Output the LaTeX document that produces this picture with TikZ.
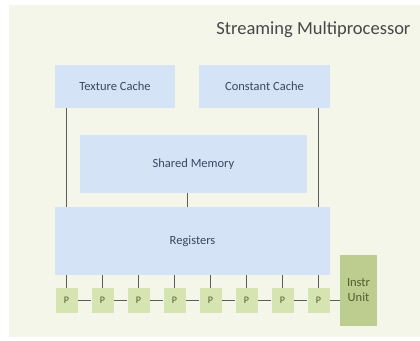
\documentclass[tikz,border=0pt]{standalone}
\usepackage{fontspec}
\setmainfont{Carlito}
\usepackage{tikz}
\usetikzlibrary{positioning,calc}

\definecolor{panelbg}{HTML}{F5F6EA}
\definecolor{memblue}{HTML}{D5E3F6}
\definecolor{memtext}{HTML}{3A4760}
\definecolor{pgreen}{HTML}{D6E4B2}
\definecolor{ugreen}{HTML}{BDCC8F}
\definecolor{utext}{HTML}{4F5E2C}
\definecolor{wire}{HTML}{5C5C5C}

\tikzset{
    membox/.style={fill=memblue,text=memtext,inner sep=0pt,font=\fontsize{12.5}{14}\selectfont},
    procbox/.style={fill=pgreen,text=utext,minimum width=22pt,minimum height=25pt,inner sep=0pt,font=\fontsize{10}{12}\selectfont},
    unitbox/.style={fill=ugreen,text=utext,minimum width=37pt,minimum height=71pt,inner sep=0pt,align=center,font=\fontsize{12.5}{15}\selectfont},
    wire/.style={draw=wire,line width=0.9pt}
}

\begin{document}
\begin{tikzpicture}[x=1pt,y=-1pt]
        \useasboundingbox (0,0) rectangle (420,340);
        % Panel
        \fill[panelbg] (9,5) rectangle (420,337);
        \node[text=black!72,font=\fontsize{18.5}{21}\selectfont,anchor=east] (title) at (414,30) {Streaming Multiprocessor};

        % Caches and memories
        \node[membox,minimum width=120pt,minimum height=43pt] (tex) at (115,86.5) {Texture Cache};
        \node[membox,minimum width=131pt,minimum height=43pt] (const) at (264.5,86.5) {Constant Cache};
        \node[membox,minimum width=227pt,minimum height=58pt] (shm) at (193.5,164) {Shared Memory};
        \node[membox,minimum width=275pt,minimum height=68pt] (reg) at (192.5,241) {Registers};

        % Processors
        \foreach \i in {1,...,8}
            \node[procbox] (p\i) at ({66.5+36*(\i-1)},300.5) {P};
        \node[unitbox] (instr) at (358.5,290.5) {Instr\\Unit};

        % Wires
        \draw[wire] (p1 |- tex.south) -- (p1 |- reg.north);
        \draw[wire] (p8 |- const.south) -- (p8 |- reg.north);
        \draw[wire] ([xshift=-6pt]shm.south) -- ([xshift=-6pt]shm.south |- reg.north);
        \foreach \i in {1,...,8}
            \draw[wire] (p\i.north) -- (p\i |- reg.south);
        \foreach \i [count=\j from 2] in {1,...,7}
            \draw[wire] (p\i.east) -- (p\j.west);
        \draw[wire] (p8.east) -- (p8 -| instr.west);
    \end{tikzpicture}
\end{document}
